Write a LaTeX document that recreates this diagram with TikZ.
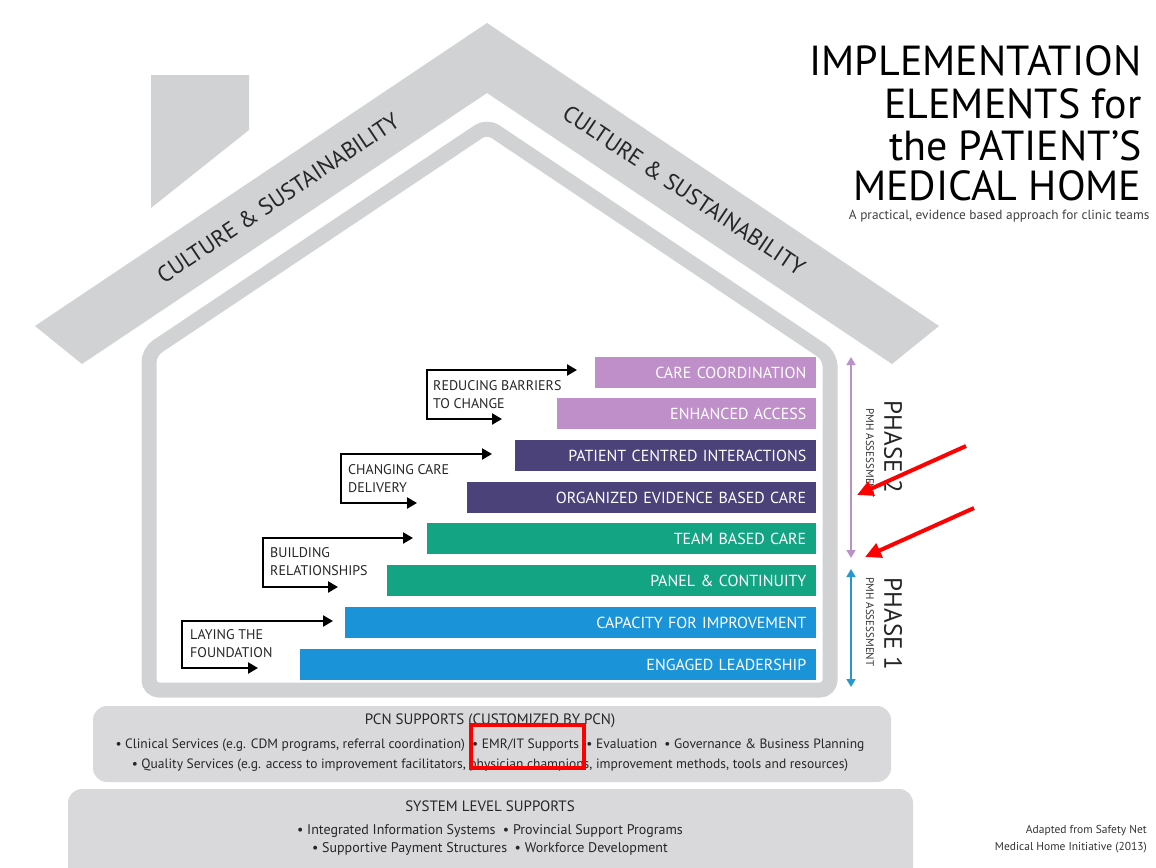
\documentclass[tikz,border=0pt]{standalone}
\usepackage{fontspec}
\setmainfont{PT Sans}
\usetikzlibrary{arrows.meta,positioning}

\definecolor{roofgray}{HTML}{D1D2D4}
\definecolor{boxgray}{HTML}{D9D9DB}
\definecolor{lilac}{HTML}{BF8FCA}
\definecolor{plum}{HTML}{4A4279}
\definecolor{jade}{HTML}{13A583}
\definecolor{azure}{HTML}{1A93D9}
\definecolor{phtwo}{HTML}{B892C8}
\definecolor{phone}{HTML}{2598CF}

\tikzset{
  bar/.style={anchor=north east, minimum height=31pt, inner xsep=9.5pt, inner ysep=0pt,
    text=white, align=right, font=\fontsize{16}{18}\selectfont},
  grp/.style={anchor=north west, inner sep=0pt, align=left, text=black!85,
    font=\fontsize{14}{18}\selectfont},
  brk/.style={line width=2.3pt, {Triangle[length=10pt,width=11pt]}-{Triangle[length=10pt,width=11pt]}},
  rooftext/.style={text=black!85, font=\fontsize{23}{26}\selectfont},
  phasetext/.style={rotate=-90, text=black!85, font=\fontsize{25}{28}\selectfont},
  pmh/.style={rotate=-90, text=black!80, font=\fontsize{11}{12}\selectfont},
  supp/.style={text=black!85, font=\fontsize{13.5}{16}\selectfont},
}

\begin{document}
\begin{tikzpicture}[x=1pt,y=-1pt]
\useasboundingbox (0,0) rectangle (1156,867);
%\draw [lightgray] (0,0) grid[step=50] (1156,867);

% roof and chimney
\fill [roofgray] (151,75) -- (249,75) -- (249,130) -- (151,208) -- cycle;
\fill [roofgray] (35,326) -- (487,23) -- (939,326) -- (892,364) -- (487,93) -- (82,364) -- cycle;
\node [rooftext, rotate=33.8] (cs1) at (278,198) {CULTURE \& SUSTAINABILITY};
\node [rooftext, rotate=-33.8] (cs2) at (684,190) {CULTURE \& SUSTAINABILITY};

% wall
\draw [roofgray, line width=15pt, rounded corners=10pt] (149,690) -- (149,352) -- (487,126) -- (830,356) -- (830,690) -- cycle;

% title
\node [anchor=base east, font=\fontsize{42}{42}\selectfont] (t1) at (1145,75) {IMPLEMENTATION};
\node [anchor=base east, font=\fontsize{42}{42}\selectfont] (t2) at (1145,118) {ELEMENTS for};
\node [anchor=base east, font=\fontsize{42}{42}\selectfont] (t3) at (1145,160) {the PATIENT'S};
\node [anchor=base east, font=\fontsize{42}{42}\selectfont] (t4) at (1145,200) {MEDICAL HOME};
\node [anchor=base east, text=black!75, font=\fontsize{13.3}{13}\selectfont] (sub) at (1153,219) {A practical, evidence based approach for clinic teams};

% bars
\node [bar, fill=lilac, text width=202pt] (cc) at (816,357) {CARE COORDINATION};
\node [bar, fill=lilac, text width=240pt] (ea) at (816,398) {ENHANCED ACCESS};
\node [bar, fill=plum, text width=282pt] (pci) at (816,440) {PATIENT CENTRED INTERACTIONS};
\node [bar, fill=plum, text width=330pt] (oebc) at (816,482) {ORGANIZED EVIDENCE BASED CARE};
\node [bar, fill=jade, text width=370pt] (tbc) at (816,523) {TEAM BASED CARE};
\node [bar, fill=jade, text width=410pt] (pc) at (816,565) {PANEL \& CONTINUITY};
\node [bar, fill=azure, text width=452pt] (cfi) at (816,607) {CAPACITY FOR IMPROVEMENT};
\node [bar, fill=azure, text width=497pt] (el) at (816,649) {ENGAGED LEADERSHIP};

% steps
\node [grp] (lay) at (190,629) {LAYING THE\\FOUNDATION};
\coordinate (c1) at (182,621);
\coordinate (a1) at (333,621);
\coordinate (b1) at (258,668);
\draw [brk] (b1) -| (c1) -- (a1);

\node [grp] (bld) at (270,547) {BUILDING\\RELATIONSHIPS};
\coordinate (c2) at (263,538);
\coordinate (a2) at (413,538);
\coordinate (b2) at (338,587);
\draw [brk] (b2) -| (c2) -- (a2);

\node [grp] (chg) at (348,464) {CHANGING CARE\\DELIVERY};
\coordinate (c3) at (341,454);
\coordinate (a3) at (492,454);
\coordinate (b3) at (417,503);
\draw [brk] (b3) -| (c3) -- (a3);

\node [grp] (red) at (433,380) {REDUCING BARRIERS\\TO CHANGE};
\coordinate (c4) at (427,370);
\coordinate (a4) at (577,370);
\coordinate (b4) at (502,419);
\draw [brk] (b4) -| (c4) -- (a4);

% phases
\coordinate (p2top) at (851,357);
\coordinate (p2bot) at (851,558);
\coordinate (p1top) at (851,569);
\coordinate (p1bot) at (851,687);
\draw [phtwo, line width=1.6pt, {Triangle[length=8pt,width=9pt]}-{Triangle[length=8pt,width=9pt]}] (p2top) -- (p2bot);
\draw [phone, line width=1.6pt, {Triangle[length=8pt,width=9pt]}-{Triangle[length=8pt,width=9pt]}] (p1top) -- (p1bot);
\node [phasetext] (ph2) at (893,447) {PHASE 2};
\node [phasetext] (ph1) at (893,624) {PHASE 1};
\node [pmh] (as2) at (870,453) {PMH ASSESSMENT};
\node [pmh] (as1) at (870,622) {PMH ASSESSMENT};

% supports
\fill [boxgray, rounded corners=14pt] (93,706) rectangle (891,782);
\fill [boxgray, rounded corners=14pt] (68,789) rectangle (913,895);
\node [supp, font=\fontsize{15}{16}\selectfont] (pcn) at (490,721) {PCN SUPPORTS (CUSTOMIZED BY PCN)};
\node [supp] (pcn1) at (490,745) {• Clinical Services (e.g. CDM programs, referral coordination) \ • EMR/IT Supports \ • Evaluation \ • Governance \& Business Planning};
\node [supp] (pcn2) at (490,765) {• Quality Services (e.g. access to improvement facilitators, physician champions, improvement methods, tools and resources)};
\node [supp, font=\fontsize{15}{16}\selectfont] (sls) at (490,806) {SYSTEM LEVEL SUPPORTS};
\node [supp, font=\fontsize{14}{16}\selectfont] (sls1) at (490,831) {• Integrated Information Systems \ • Provincial Support Programs};
\node [supp, font=\fontsize{14}{16}\selectfont] (sls2) at (490,849) {• Supportive Payment Structures \ • Workforce Development};

\node [anchor=north east, align=right, inner sep=0pt, text=black!80, font=\fontsize{11.5}{17}\selectfont] (src) at (1147,825) {Adapted from Safety Net\\Medical Home Initiative (2013)};

% marks
\draw [red, line width=4pt] (471,725) rectangle (584,768);
\coordinate (r1) at (966,446);
\coordinate (r1t) at (857,495);
\coordinate (r2) at (974,508);
\coordinate (r2t) at (865,557);
\draw [red, line width=4pt, -{Triangle[length=16pt,width=15pt]}] (r1) -- (r1t);
\draw [red, line width=4pt, -{Triangle[length=16pt,width=15pt]}] (r2) -- (r2t);

\end{tikzpicture}
\end{document}
